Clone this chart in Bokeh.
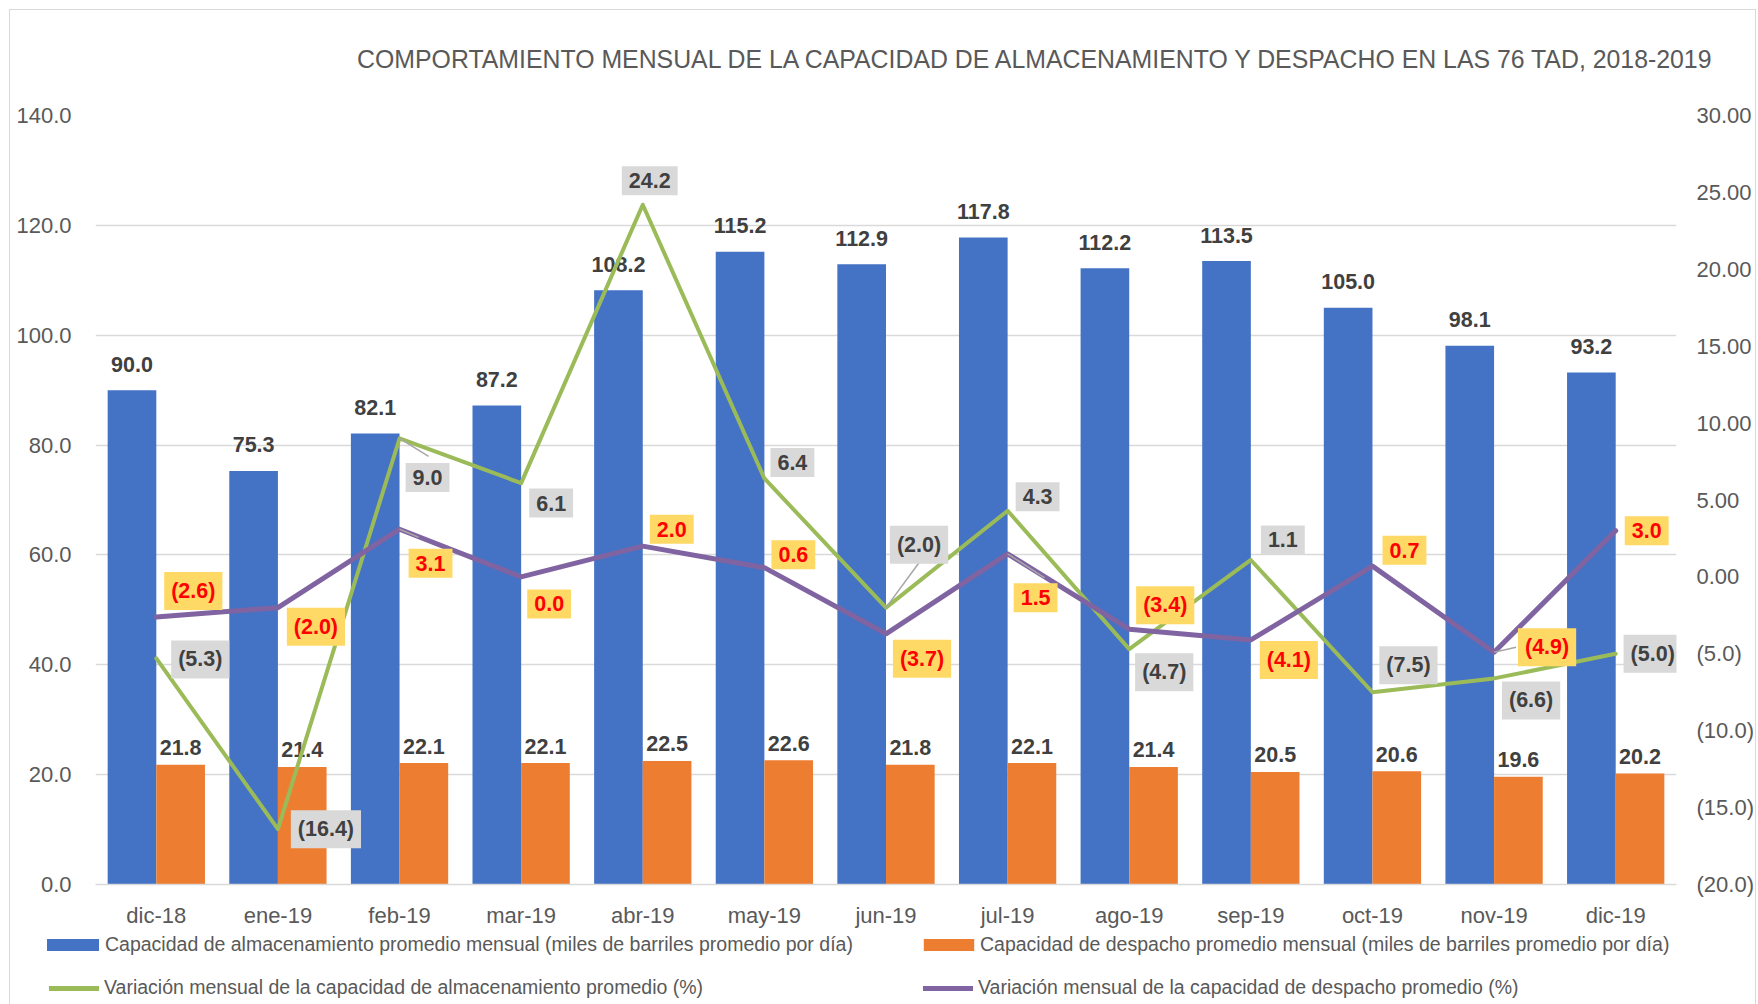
from bokeh.plotting import figure
from bokeh.models import (FactorRange, Range1d, LinearAxis, FixedTicker, NumeralTickFormatter,
                          ColumnDataSource, Legend, LegendItem, InlineStyleSheet)
from bokeh.transform import dodge
from bokeh.core.properties import value
from bokeh.embed import file_html
from bokeh.resources import INLINE

# ---------------- data ----------------
months = ["dic-18", "ene-19", "feb-19", "mar-19", "abr-19", "may-19", "jun-19",
          "jul-19", "ago-19", "sep-19", "oct-19", "nov-19", "dic-19"]
storage_capacity = [90.0, 75.3, 82.1, 87.2, 108.2, 115.2, 112.9, 117.8, 112.2, 113.5, 105.0, 98.1, 93.2]
dispatch_capacity = [21.8, 21.4, 22.1, 22.1, 22.5, 22.6, 21.8, 22.1, 21.4, 20.5, 20.6, 19.6, 20.2]
storage_variation = [-5.3, -16.4, 9.0, 6.1, 24.2, 6.4, -2.0, 4.3, -4.7, 1.1, -7.5, -6.6, -5.0]
dispatch_variation = [-2.6, -2.0, 3.1, 0.0, 2.0, 0.6, -3.7, 1.5, -3.4, -4.1, 0.7, -4.9, 3.0]

left_ticks = [0, 20, 40, 60, 80, 100, 120, 140]
right_ticks = [-20, -15, -10, -5, 0, 5, 10, 15, 20, 25, 30]
right_tick_labels = ["(20.0)", "(15.0)", "(10.0)", "(5.0)", "0.00", "5.00", "10.00",
                     "15.00", "20.00", "25.00", "30.00"]

title_text = "COMPORTAMIENTO MENSUAL DE LA CAPACIDAD DE ALMACENAMIENTO Y DESPACHO EN LAS 76 TAD, 2018-2019"
legend_labels = [
    "Capacidad de almacenamiento promedio mensual (miles de barriles promedio por día)",
    "Capacidad de despacho promedio mensual (miles de barriles promedio por día)",
    "Variación mensual de la capacidad de almacenamiento promedio (%)",
    "Variación mensual de la capacidad de despacho promedio (%)",
]

# ---------------- layout / style ----------------
FONT = "Liberation Sans"
BLUE, ORANGE, GREEN, PURPLE = "#4472C4", "#ED7D31", "#9BBB59", "#8064A2"
GRAY_TXT = "#595959"
W = 1758
H_MAIN, H_LEG = 930, 74
ML, MR, MT, MB = 95, 82, 115, 44
FRAME_W = W - ML - MR
FRAME_H = H_MAIN - MT - MB

# pixel offsets of the boxed data labels (relative to their point)
green_lbl_dx = [44, 48, 28, 30, 7, 28, 33, 30, 35, 32, 36, 37, 37]
green_lbl_dy = [1, 0, 39, 20, -24, -16, -63, -14, 23, -20, -27, 22, 0]
purple_lbl_dx = [37, 38, 31, 28, 29, 29, 36, 28, 36, 38, 32, 53, 31]
purple_lbl_dy = [-26, 19, 34, 27, -17, -13, 25, 44, -24, 20, -16, -5, 0]


def fmt_pct(v):
    return f"({abs(v):.1f})" if v < 0 else f"{v:.1f}"


src = ColumnDataSource(dict(
    month=months,
    storage=storage_capacity,
    dispatch=dispatch_capacity,
    svar=storage_variation,
    dvar=dispatch_variation,
    storage_lbl=[f"{v:.1f}" for v in storage_capacity],
    dispatch_lbl=[f"{v:.1f}" for v in dispatch_capacity],
    svar_lbl=[fmt_pct(v) for v in storage_variation],
    dvar_lbl=[fmt_pct(v) for v in dispatch_variation],
    g_dx=green_lbl_dx, g_dy=green_lbl_dy,
    p_dx=purple_lbl_dx, p_dy=purple_lbl_dy,
))

p = figure(width=W, height=H_MAIN,
           x_range=FactorRange(*months, range_padding=0),
           y_range=Range1d(0, 140),
           output_backend="svg", toolbar_location=None,
           min_border_left=ML, min_border_right=MR, min_border_top=MT, min_border_bottom=MB)
p.extra_y_ranges = {"right": Range1d(-20, 30)}

p.outline_line_color = None
p.background_fill_color = "white"
p.border_fill_color = "white"
p.xgrid.grid_line_color = None
p.ygrid.grid_line_color = "#D9D9D9"
p.ygrid.grid_line_width = 1.3
p.stylesheets = [InlineStyleSheet(css=(
    ":host { position: relative; }"
    ":host::after { content: ''; position: absolute; left: 9px; top: 9px; right: 2px; bottom: 0px;"
    " border: 1px solid #D9D9D9; border-bottom: none; pointer-events: none; }"))]

# title
p.title.text = title_text
p.title.align = "right"
p.title.offset = -40
p.title.text_font = FONT
p.title.text_font_size = "24.85px"
p.title.text_font_style = "normal"
p.title.text_color = GRAY_TXT
p.title.standoff = 86

# left axis
yl = p.yaxis[0]
yl.ticker = FixedTicker(ticks=left_ticks)
yl.formatter = NumeralTickFormatter(format="0.0")
yl.major_label_standoff = 24

# right axis
yr = LinearAxis(y_range_name="right", ticker=FixedTicker(ticks=right_ticks),
                major_label_overrides={t: l for t, l in zip(right_ticks, right_tick_labels)})
yr.major_label_standoff = 20
p.add_layout(yr, "right")

xa = p.xaxis[0]
for ax in (yl, yr, xa):
    ax.axis_line_color = None
    ax.major_tick_line_color = None
    ax.minor_tick_line_color = None
    ax.major_tick_out = 0
    ax.major_tick_in = 0
    ax.minor_tick_out = 0
    ax.minor_tick_in = 0
    ax.major_label_text_font = FONT
    ax.major_label_text_font_size = "22px"
    ax.major_label_text_color = GRAY_TXT
xa.axis_line_color = "#D9D9D9"
xa.axis_line_width = 1.3
xa.major_label_standoff = 18

# bars
r_blue = p.vbar(x=dodge("month", -0.2, range=p.x_range), top="storage", width=0.4,
                source=src, fill_color=BLUE, line_color=None)
r_orange = p.vbar(x=dodge("month", 0.2, range=p.x_range), top="dispatch", width=0.4,
                  source=src, fill_color=ORANGE, line_color=None)

lbl_kw = dict(text_font=value(FONT), text_font_style="bold", text_font_size="21.5px")
p.text(x=dodge("month", -0.2, range=p.x_range), y="storage", text="storage_lbl", source=src,
       text_align="center", text_baseline="alphabetic", y_offset=-26, text_color="#404040", **lbl_kw)
p.text(x=dodge("month", 0.2, range=p.x_range), y="dispatch", text="dispatch_lbl", source=src,
       text_align="center", text_baseline="alphabetic", y_offset=-17, text_color="#404040", **lbl_kw)

# lines
r_green = p.line(x="month", y="svar", source=src, y_range_name="right", line_color=GREEN,
                 line_width=4, line_join="round", line_cap="round")
r_purple = p.line(x="month", y="dvar", source=src, y_range_name="right", line_color=PURPLE,
                  line_width=5, line_join="round", line_cap="round")

# leader lines (series, month index, end offset in px)
px_x = FRAME_W / len(months)
px_y = FRAME_H / 50.0
leaders = [(storage_variation, 2, 29, 18), (dispatch_variation, 2, 19, 8),
           (storage_variation, 6, 33, -45), (dispatch_variation, 7, 37, 24),
           (dispatch_variation, 11, 22, -5)]
lx0, ly0, lx1, ly1 = [], [], [], []
for series, i, dx, dy in leaders:
    lx0.append(i + 0.5)
    ly0.append(series[i])
    lx1.append(i + 0.5 + dx / px_x)
    ly1.append(series[i] - dy / px_y)
p.segment(x0=lx0, y0=ly0, x1=lx1, y1=ly1, y_range_name="right", line_color="#A6A6A6", line_width=1.5)

p.text(x="month", y="svar", text="svar_lbl", source=src, y_range_name="right",
       x_offset="g_dx", y_offset="g_dy", text_align="center", text_baseline="middle",
       text_color="#404040", background_fill_color="#D9D9D9", padding=7, **lbl_kw)
p.text(x="month", y="dvar", text="dvar_lbl", source=src, y_range_name="right",
       x_offset="p_dx", y_offset="p_dy", text_align="center", text_baseline="middle",
       text_color="#FF0000", background_fill_color="#FFD966", padding=7, **lbl_kw)

# ---------------- legend strip (separate root below the chart) ----------------
pl = figure(width=W, height=H_LEG, x_range=Range1d(0, 1), y_range=Range1d(0, 1),
            x_axis_type=None, y_axis_type=None, output_backend="svg", toolbar_location=None,
            min_border=0)
pl.outline_line_color = None
pl.xgrid.grid_line_color = None
pl.ygrid.grid_line_color = None
pl.border_fill_color = "white"
pl.stylesheets = [InlineStyleSheet(css=(
    ":host { position: relative; }"
    ":host::after { content: ''; position: absolute; left: 9px; top: 0px; right: 2px; bottom: 0px;"
    " border-left: 1px solid #D9D9D9; border-right: 1px solid #D9D9D9; pointer-events: none; }"))]
# legend proxies: same styling as the chart's series, drawn outside the strip's visible range
lg_blue = pl.vbar(x=[5], top=[5], bottom=[4], width=0.4, fill_color=BLUE, line_color=None)
lg_orange = pl.vbar(x=[5], top=[5], bottom=[4], width=0.4, fill_color=ORANGE, line_color=None)
lg_green = pl.line(x=[5, 6], y=[5, 5], line_color=GREEN, line_width=5, line_cap="round")
lg_purple = pl.line(x=[5, 6], y=[5, 5], line_color=PURPLE, line_width=5, line_cap="round")

leg_specs = [
    (legend_labels[0], lg_blue, (40, 48), 65, 15, 0),
    (legend_labels[1], lg_orange, (917, 48), 63, 15, 0),
    (legend_labels[2], lg_green, (49, 5), 50, 22, 5),
    (legend_labels[3], lg_purple, (923, 5), 50, 22, 5),
]
for label, rend, loc, gw, gh, ls in leg_specs:
    lg = Legend(items=[LegendItem(label=label, renderers=[rend])], location=loc,
                orientation="horizontal", glyph_width=gw, glyph_height=gh, label_standoff=ls,
                padding=0, margin=0, border_line_color=None, background_fill_alpha=0,
                label_text_font=FONT, label_text_font_size="19.5px", label_text_color=GRAY_TXT,
                label_height=15)
    pl.add_layout(lg)

open("out.html", "w").write(file_html([p, pl], INLINE))
